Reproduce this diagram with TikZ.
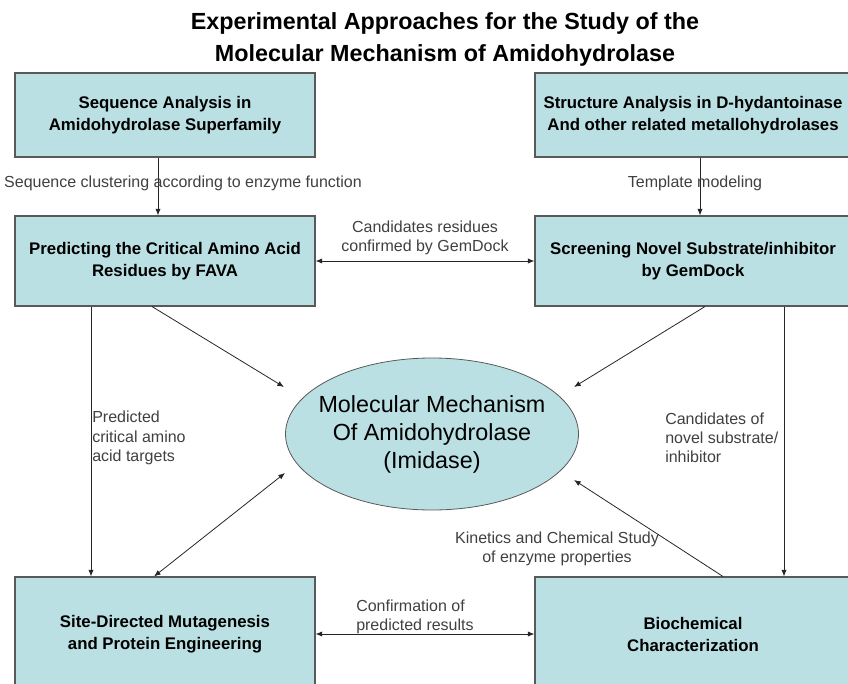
\documentclass[tikz,border=0pt]{standalone}
\usepackage{fontspec}
\setmainfont{Liberation Sans}
\usetikzlibrary{arrows.meta, shapes.geometric, shadows}
\definecolor{boxcyan}{RGB}{187,224,227}
\begin{document}
\begin{tikzpicture}[
		x=0.75pt, y=-0.75pt,
		box/.style={rectangle, draw=black!65, fill=boxcyan, line width=0.8pt, align=center,
			drop shadow={shadow xshift=0.8pt, shadow yshift=-0.8pt, fill=black!35, opacity=1},
			font=\bfseries\fontsize{12.6}{16.5}\selectfont},
		mechnode/.style={ellipse, draw=black!65, fill=boxcyan, line width=0.6pt, inner xsep=-8pt, inner ysep=0pt,
			minimum width=219.75pt, minimum height=114pt, align=center,
			font=\fontsize{17.5}{21}\selectfont},
		lbl/.style={inner sep=0pt, text=black!75, font=\fontsize{12}{14.4}\selectfont},
		arr/.style={-{Latex[length=5pt, width=4pt]}, line width=0.6pt, draw=black!85},
		darr/.style={{Latex[length=5pt, width=4pt]}-{Latex[length=5pt, width=4pt]}, line width=0.6pt, draw=black!85},
		]
		\useasboundingbox (0, 0) rectangle (848, 684);
		\clip (0, 0) rectangle (848, 684);
		
		%Title
		\node[align=center, font=\bfseries\fontsize{17.5}{24}\selectfont] (title) at (445, 39)
			{Experimental Approaches for the Study of the\\Molecular Mechanism of Amidohydrolase};
		
		%Nodes
		\node[box, minimum width=225pt, minimum height=63pt]   (seqbox)   at (165, 115) {Sequence Analysis in\\Amidohydrolase Superfamily};
		\node[box, minimum width=237pt, minimum height=63pt]   (strucbox) at (693, 115) {Structure Analysis in D-hydantoinase\\And other related metallohydrolases};
		\node[box, minimum width=225pt, minimum height=67.5pt] (favabox)  at (165, 261) {Predicting the Critical Amino Acid\\Residues by FAVA};
		\node[box, minimum width=237pt, minimum height=67.5pt] (dockbox)  at (693, 261) {Screening Novel Substrate/inhibitor\\by GemDock};
		\node[box, minimum width=225pt, minimum height=85.5pt] (mutbox)   at (165, 634) {Site-Directed Mutagenesis\\and Protein Engineering};
		\node[box, minimum width=237pt, minimum height=85.5pt] (biobox)   at (693, 634) {Biochemical\\Characterization};
		\node[mechnode] (mech) at (432, 434) {Molecular Mechanism\\Of Amidohydrolase\\(Imidase)};
		
		\coordinate (tipA) at (284, 387);
		\coordinate (tipB) at (574, 387);
		\coordinate (tipC) at (285, 473);
		\coordinate (tipD) at (574, 480);
		
		%Connectors
		\draw[arr]  ([xshift=-5.25pt]seqbox.south)  -- ([xshift=-5.25pt]favabox.north);
		\draw[arr]  ([xshift=5.25pt]strucbox.south) -- ([xshift=5.25pt]dockbox.north);
		\draw[darr] (favabox) -- (dockbox);
		\draw[arr]  ([xshift=-9.75pt]favabox.south) -- (tipA);
		\draw[arr]  ([xshift=9pt]dockbox.south)     -- (tipB);
		\draw[arr]  ([xshift=-55.5pt]favabox.south) -- ([xshift=-55.5pt]mutbox.north);
		\draw[arr]  ([xshift=68.25pt]dockbox.south) -- ([xshift=68.25pt]biobox.north);
		\draw[darr] ([xshift=-8.25pt]mutbox.north)  -- (tipC);
		\draw[arr]  ([xshift=22.5pt]biobox.north)   -- (tipD);
		\draw[darr] (mutbox) -- (biobox);
		
		%Labels
		\node[lbl] (clusterlbl)  at (183, 183) {Sequence clustering according to enzyme function};
		\node[lbl] (templatelbl) at (695, 183) {Template modeling};
		\node[lbl, align=center] (candreslbl) at (425, 238) {Candidates residues\\confirmed by GemDock};
		\node[lbl, align=left, anchor=west] (predlbl) at (92, 438) {Predicted\\critical amino\\acid targets};
		\node[lbl, align=left, anchor=west] (candlbl) at (665, 438) {Candidates of\\novel substrate/\\inhibitor};
		\node[lbl, align=center] (kinlbl) at (557, 549) {Kinetics and Chemical Study\\of enzyme properties};
		\node[lbl, align=left, anchor=west] (conflbl) at (356, 617) {Confirmation of\\predicted results};
	\end{tikzpicture}
\end{document}
